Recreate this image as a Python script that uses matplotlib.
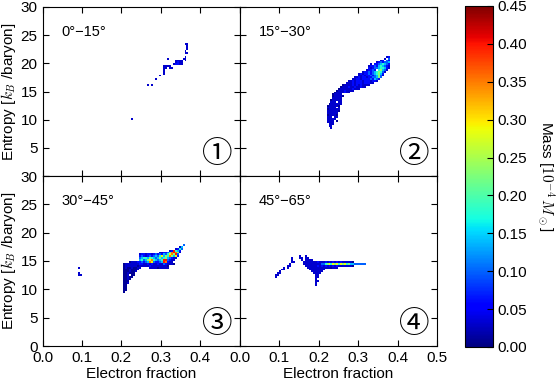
import numpy as np
import matplotlib.pyplot as plt

plt.rcParams['font.family'] = ['Liberation Sans', 'DejaVu Sans']
plt.rcParams['mathtext.fontset'] = 'cm'
plt.rcParams['font.size'] = 11

# histogram bins: electron fraction (0.005 wide) and entropy (1/3 wide)
ye_edges = np.linspace(0.0, 0.5, 101)
s_edges = np.linspace(0.0, 30.0, 91)

# mass per cell [1e-4 Msun], coded by one character
levels = {'1': 0.010, '2': 0.03, '3': 0.06, '4': 0.10, '5': 0.14,
          '6': 0.18, '7': 0.23, '8': 0.29, '9': 0.35, 'R': 0.40}

# rows as (entropy bin, first Ye bin, cell codes); '.' = empty
p1_rows = [
    (70, 72, "22"), (69, 73, "2"), (68, 73, "2"), (67, 73, "2"),
    (66, 72, "2"), (65, 72, "22"), (63, 72, "2"), (62, 71, "22"),
    (62, 63, "2"), (61, 67, "2222.2"), (60, 67, "2322"), (59, 66, "23322"),
    (58, 61, "2222"), (57, 61, "22.22"), (56, 61, "2"), (55, 61, "2"),
    (54, 61, "2"), (53, 59, "2"), (51, 57, "2"), (48, 53, "2.2"),
    (30, 45, "2"),
]

p2_rows = [
    (63, 74, "23"), (62, 73, "2.4"), (61, 71, "23.43"), (60, 69, "2343445"),
    (59, 66, "2.33456543"), (58, 65, "23343565432"), (57, 65, "32344566532"),
    (56, 64, "23343.67542"), (55, 62, "233434567642"), (54, 60, "2323343456753"),
    (53, 60, "2232334345742"), (52, 58, "22323323344574"),
    (51, 57, "22332333343543"), (50, 55, "223233323332332"),
    (49, 54, "22232333233322"), (48, 52, "12222323232222"),
    (47, 51, "1222322322322"), (46, 50, "12222223222"), (45, 49, "122232222"),
    (44, 48, "12222322"), (43, 47, "12222"), (42, 47, "122221"),
    (41, 47, "22222"), (40, 46, "122222"), (39, 46, "222.22"),
    (38, 45, "1222222"), (37, 44, "1222221"), (36, 44, "22222.2"),
    (35, 44, "1222222"), (34, 44, "2222221"), (33, 44, "222222"),
    (32, 44, "122221"), (31, 44, "222.22"), (30, 44, "22222"),
    (29, 44, "2222.1"), (28, 44, "2222"), (27, 45, "222"), (26, 45, "22"),
    (25, 46, "2"),
]

p3_rows = [
    (53, 71, "4"), (52, 69, "25"), (51, 67, "2364"), (50, 64, "23R653"),
    (49, 59, "2233469R972"), (48, 49, "233233234343546897R4"),
    (47, 49, "34323434546857697583"), (46, 49, "4566576545756754322"),
    (45, 49, "564578965456RR4322"), (44, 44, "12223343459843345R9322"),
    (43, 41, "12222222332232322322432221"), (42, 41, "12222221222223222222221"),
    (41, 41, "121121122"), (41, 54, "2222122222"), (40, 41, "11121112"),
    (39, 41, "1112112"), (38, 41, "112111"), (37, 41, "112.11"),
    (36, 41, "11211"), (35, 41, "1121"), (34, 41, "111"), (33, 41, "112"),
    (32, 41, "11"), (31, 41, "11"), (30, 41, "11"), (29, 41, "11"),
    (28, 41, "1"),
    (41, 18, "2"), (38, 18, "2"), (37, 18, "22"),
]

p4_rows = [
    (47, 30, "2"), (47, 33, "2"),
    (46, 26, "2"), (46, 30, "22"), (46, 33, "22"),
    (45, 26, "2"), (45, 31, "2"), (45, 33, "2222"),
    (44, 26, "22"), (44, 32, "22222223222323232323222221"),
    (43, 25, "2"), (43, 32, "222222222"), (43, 41, "44678687868786755444444"),
    (42, 24, "22"), (42, 33, "2222223232323232322222221"),
    (41, 22, "2"), (41, 24, "2"), (41, 34, "2222222222221222"),
    (40, 21, "22"), (40, 35, "22222222"),
    (39, 20, "2"), (39, 36, "222222"),
    (38, 19, "22"), (38, 37, "2222"),
    (37, 18, "22"), (37, 38, "22"),
    (36, 18, "2"), (36, 38, "22"),
    (35, 38, "2"), (34, 38, "22"), (33, 38, "2"), (32, 38, "2"),
]

panel_rows = [p1_rows, p2_rows, p3_rows, p4_rows]
angle_labels = [u"0°\u221215°", u"15°\u221230°", u"30°\u221245°", u"45°\u221265°"]
circled = [u"\u2460", u"\u2461", u"\u2462", u"\u2463"]


def build_grid(rows):
    grid = np.zeros((len(s_edges) - 1, len(ye_edges) - 1))
    for s_bin, ye_bin, codes in rows:
        for k, ch in enumerate(codes):
            if ch != '.':
                grid[s_bin, ye_bin + k] = levels[ch]
    return np.ma.masked_equal(grid, 0)


fig = plt.figure(figsize=(5.56, 3.81), dpi=100)
W, H = 556.0, 381.0
left, right = 42.5 / W, 437.0 / W
pw = (right - left) / 2
boxes = [
    [left, 1 - 176 / H, pw, 169 / H],
    [left + pw, 1 - 176 / H, pw, 169 / H],
    [left, 1 - 346 / H, pw, 170 / H],
    [left + pw, 1 - 346 / H, pw, 170 / H],
]

for n in range(4):
    ax = fig.add_axes(boxes[n])
    mesh = ax.pcolormesh(ye_edges, s_edges, build_grid(panel_rows[n]),
                         cmap='jet', vmin=0, vmax=0.45, antialiased=False)
    ax.set_xlim(0, 0.5)
    ax.set_ylim(0, 30)
    ax.set_xticks([0.0, 0.1, 0.2, 0.3, 0.4, 0.5])
    ax.set_yticks([0, 5, 10, 15, 20, 25, 30])
    ax.tick_params(direction='in', top=True, right=True, length=4, width=0.8)

    if n == 2:
        ax.set_xticklabels(["0.0", "0.1", "0.2", "0.3", "0.4", ""])
    elif n == 3:
        ax.set_xticklabels(["0.0", "0.1", "0.2", "0.3", "0.4", "0.5"])
    else:
        ax.set_xticklabels([])
    if n == 0:
        ax.set_yticklabels(["", "5", "10", "15", "20", "25", "30"])
    elif n == 2:
        ax.set_yticklabels(["0", "5", "10", "15", "20", "25", "30"])
    else:
        ax.set_yticklabels([])

    if n in (0, 2):
        ax.set_ylabel(r"Entropy [$k_B$ /baryon]", va='center')
        ax.yaxis.set_label_coords(-0.172, 0.5)
    if n in (2, 3):
        ax.set_xlabel("Electron fraction", labelpad=1.5)

    ax.text(0.097, 0.855, angle_labels[n], transform=ax.transAxes,
            ha='left', va='center', fontsize=10.5)
    ax.text(0.886, 0.125, circled[n], transform=ax.transAxes,
            ha='center', va='center', fontsize=22,
            family=['Noto Sans CJK JP', 'DejaVu Sans'])

cax = fig.add_axes([465 / W, 1 - 347 / H, 28 / W, 341 / H])
cbar = fig.colorbar(mesh, cax=cax)
cbar.set_ticks([0.0, 0.05, 0.10, 0.15, 0.20, 0.25, 0.30, 0.35, 0.40, 0.45])
cbar.set_ticklabels(["0.00", "0.05", "0.10", "0.15", "0.20", "0.25",
                     "0.30", "0.35", "0.40", "0.45"])
cax.tick_params(direction='in', length=4, width=0.8)
cbar.outline.set_linewidth(0.8)
cbar.set_label(r"Mass [$10^{-4}\,M_\odot$]", rotation=270, va='center')
cax.yaxis.set_label_coords(2.9, 0.5)

fig.savefig("out.png", dpi=100)
